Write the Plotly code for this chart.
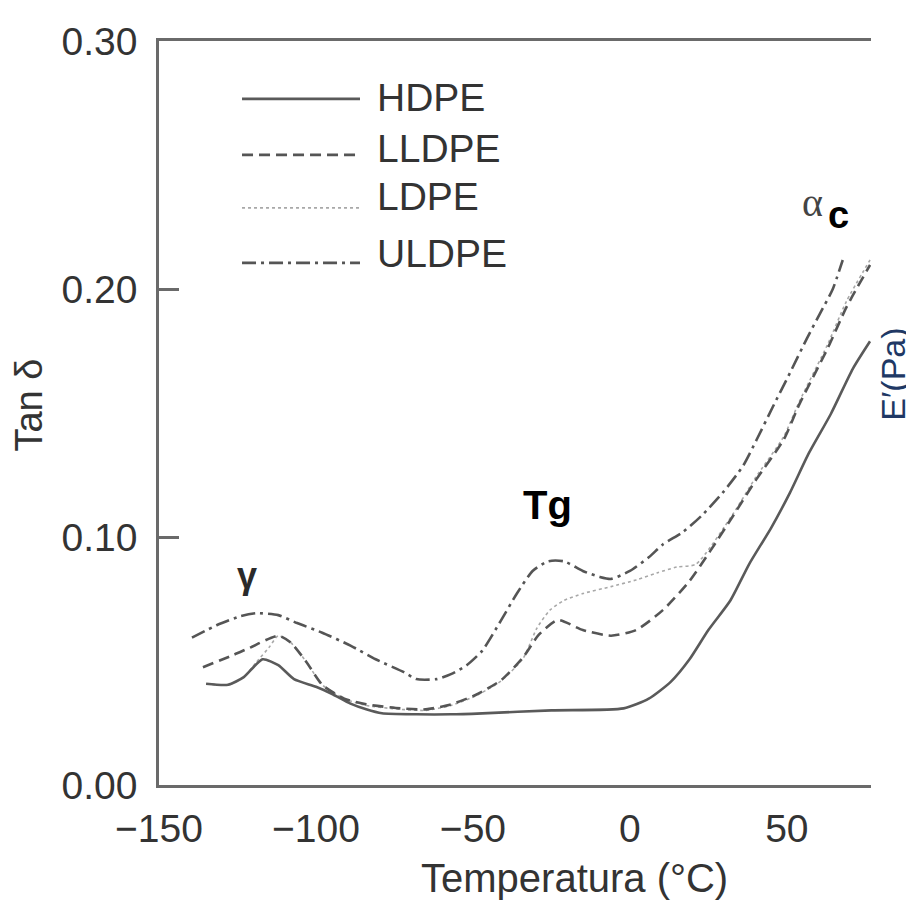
import plotly.graph_objects as go

# ---- data (temperature in °C, tan delta) ----
temp_hdpe = [-135, -128, -123, -117, -112, -107, -100, -95, -89, -84, -79, -68, -57, -47,
             -25, -2, 6, 13, 19, 25, 32, 38, 45, 51, 57, 64, 71, 76.5]
tan_hdpe = [0.0408, 0.0404, 0.0435, 0.0507, 0.0483, 0.0427, 0.0396, 0.0368, 0.0328, 0.0305,
            0.0289, 0.0285, 0.0285, 0.0289, 0.0301, 0.0309, 0.0348, 0.0416, 0.0507, 0.0625,
            0.0744, 0.0891, 0.1037, 0.1179, 0.1338, 0.1496, 0.1678, 0.1789]

temp_lldpe = [-136, -126, -121, -112, -108, -103, -98, -91, -84, -73, -65, -57, -49, -41,
              -34, -29, -23, -15, -6, 2, 10.5, 19, 25.5, 33, 40, 49, 54, 63, 69, 76.5]
tan_lldpe = [0.0475, 0.0526, 0.0554, 0.0602, 0.0574, 0.0495, 0.0404, 0.0348, 0.0325, 0.0309,
             0.0305, 0.0325, 0.0364, 0.0423, 0.0515, 0.0606, 0.0665, 0.0625, 0.0602, 0.0625,
             0.0705, 0.0823, 0.0942, 0.1088, 0.1227, 0.1393, 0.1536, 0.1761, 0.1927, 0.2097]

temp_ldpe = [-135, -128, -123, -119, -115, -112, -108, -103, -98, -91, -84, -73, -65, -57,
             -49, -41, -34, -29.6, -25.5, -21, -15, -6, 2, 8.6, 15, 21, 33, 40, 49, 54, 63, 69, 76.5]
tan_ldpe = [0.0408, 0.0404, 0.0435, 0.0495, 0.0554, 0.0602, 0.0574, 0.0495, 0.0404, 0.0348,
            0.0321, 0.0305, 0.0301, 0.0321, 0.0360, 0.0420, 0.0511, 0.0633, 0.0705, 0.0744,
            0.0772, 0.0800, 0.0827, 0.0855, 0.0879, 0.0890, 0.1096, 0.1239, 0.1405, 0.1547,
            0.1777, 0.1951, 0.2117]

temp_uldpe = [-139.5, -131.5, -124, -119, -112, -106, -98, -89, -81, -72, -68, -61.5, -57, -52,
              -47, -41, -36, -31, -26, -21, -15, -9.6, -6, 0, 6, 10.5, 17, 23, 29.6, 36, 40.4,
              45.5, 51, 56.4, 60.5, 64.6, 67.8]
tan_uldpe = [0.0594, 0.0645, 0.0681, 0.0693, 0.0685, 0.0653, 0.0614, 0.0562, 0.0507, 0.0455,
             0.0427, 0.0427, 0.0447, 0.0483, 0.0542, 0.0665, 0.0772, 0.0863, 0.0902, 0.0902,
             0.0863, 0.0839, 0.0831, 0.0863, 0.0918, 0.0970, 0.1021, 0.1088, 0.1179, 0.1286,
             0.1393, 0.1524, 0.1662, 0.1801, 0.1900, 0.1999, 0.2117]

series_names = ["HDPE", "LLDPE", "LDPE", "ULDPE"]
x_ticks = [-150, -100, -50, 0, 50]
y_ticks = [0.0, 0.1, 0.2, 0.3]

# ---- styles ----
AX = "#6a6a6a"
FONT = "Liberation Sans, Arial, sans-serif"
styles = {
    "HDPE": dict(color="#5a5a5a", width=2.6, dash="solid"),
    "LLDPE": dict(color="#555555", width=2.6, dash="11px,6px"),
    "LDPE": dict(color="#a8a8a8", width=1.6, dash="3px,3px"),
    "ULDPE": dict(color="#555555", width=2.6, dash="14px,5px,3px,5px"),
}
data = {
    "HDPE": (temp_hdpe, tan_hdpe),
    "LLDPE": (temp_lldpe, tan_lldpe),
    "LDPE": (temp_ldpe, tan_ldpe),
    "ULDPE": (temp_uldpe, tan_uldpe),
}

fig = go.Figure()
for name in ["LDPE", "HDPE", "LLDPE", "ULDPE"]:
    xs, ys = data[name]
    st = styles[name]
    fig.add_trace(go.Scatter(
        x=xs, y=ys, mode="lines", name=name, showlegend=False,
        line=dict(color=st["color"], width=st["width"], dash=st["dash"],
                  shape="spline", smoothing=0.6),
    ))

# custom legend (long line samples)
leg_line_y = [0.9222, 0.8470, 0.7757, 0.7018]
leg_text_y = [0.9235, 0.8549, 0.7916, 0.7138]
shapes = []
annotations = []
for name, ly, ty in zip(series_names, leg_line_y, leg_text_y):
    st = styles[name]
    shapes.append(dict(type="line", xref="paper", yref="paper", x0=0.1166, x1=0.2823,
                       y0=ly, y1=ly,
                       line=dict(color=st["color"], width=st["width"], dash=st["dash"])))
    annotations.append(dict(xref="paper", yref="paper", x=0.3034, y=ty, text=name,
                            showarrow=False, xanchor="left", yanchor="middle",
                            font=dict(family=FONT, size=39, color="#333333")))

# axis titles & labels
annotations += [
    dict(xref="paper", yref="paper", x=0.5829, y=-0.125, text="Temperatura (°C)",
         showarrow=False, xanchor="center", yanchor="middle",
         font=dict(family=FONT, size=40, color="#333333")),
    dict(xref="paper", yref="paper", x=-0.183, y=0.511, text="Tan δ", textangle=-90,
         showarrow=False, xanchor="center", yanchor="middle",
         font=dict(family=FONT, size=38, color="#333333")),
    dict(xref="paper", yref="paper", x=1.0309, y=0.5515, text="E′(Pa)", textangle=-90,
         showarrow=False, xanchor="center", yanchor="middle",
         font=dict(family=FONT, size=34, color="#203864")),
    dict(xref="paper", yref="paper", x=0.545, y=0.376, text="<b>Tg</b>",
         showarrow=False, xanchor="center", yanchor="middle",
         font=dict(family=FONT, size=40, color="#000000")),
    dict(xref="paper", yref="paper", x=0.1236, y=0.281, text="<b>γ</b>",
         showarrow=False, xanchor="center", yanchor="middle",
         font=dict(family=FONT, size=36, color="#2a2a2a")),
    dict(xref="paper", yref="paper", x=0.9185, y=0.7825, text="α",
         showarrow=False, xanchor="center", yanchor="middle",
         font=dict(family="Liberation Serif, serif", size=40, color="#444444")),
    dict(xref="paper", yref="paper", x=0.9537, y=0.7665, text="<b>c</b>",
         showarrow=False, xanchor="center", yanchor="middle",
         font=dict(family=FONT, size=38, color="#000000")),
]

fig.update_layout(
    width=906, height=904,
    margin=dict(l=151, r=43, t=19, b=127),
    paper_bgcolor="white", plot_bgcolor="white",
    showlegend=False,
    shapes=shapes, annotations=annotations,
    font=dict(family=FONT, size=38, color="#333333"),
)
fig.update_xaxes(
    range=[-150, 76.8], tickvals=x_ticks, showgrid=False, zeroline=False,
    showline=True, linecolor=AX, linewidth=2.5, mirror=True, ticks="",
    ticklabelstandoff=7, ticklabeloverflow="allow",
    tickfont=dict(family=FONT, size=39, color="#333333"),
)
fig.update_yaxes(
    range=[0, 0.3], tickvals=y_ticks, tickformat=".2f", showgrid=False, zeroline=False,
    showline=True, linecolor=AX, linewidth=2.5, mirror=False,
    ticks="inside", ticklen=20, tickwidth=2.5, tickcolor=AX,
    ticklabelstandoff=11, ticklabeloverflow="allow",
    tickfont=dict(family=FONT, size=39, color="#333333"),
)

fig.write_html("out.html")
